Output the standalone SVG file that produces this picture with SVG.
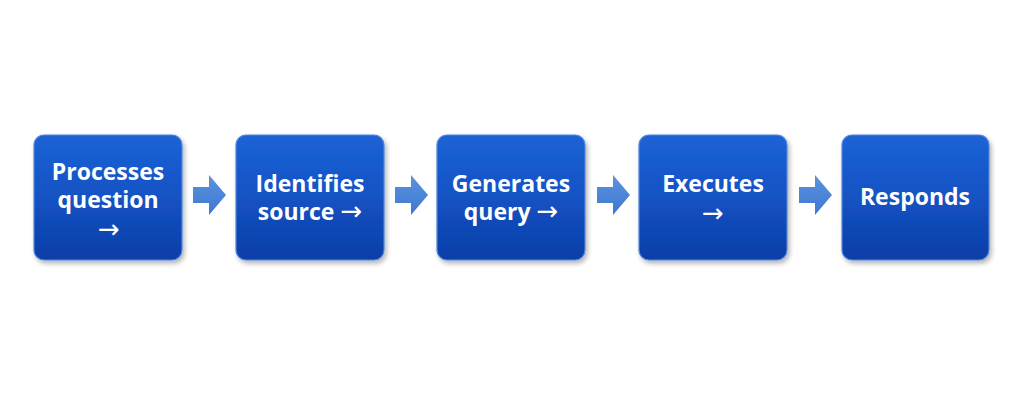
<svg xmlns="http://www.w3.org/2000/svg" width="1024" height="409" viewBox="0 0 1024 409">
<defs>
<linearGradient id="boxg" x1="0" y1="0" x2="0" y2="1">
<stop offset="0" stop-color="#1b63d6"/>
<stop offset="0.5" stop-color="#1452c4"/>
<stop offset="1" stop-color="#0c3ea6"/>
</linearGradient>
<linearGradient id="arrg" x1="0" y1="0" x2="0" y2="1">
<stop offset="0" stop-color="#5b93e0"/>
<stop offset="1" stop-color="#3d78d0"/>
</linearGradient>
<filter id="sh" x="-10%" y="-10%" width="125%" height="125%">
<feGaussianBlur in="SourceAlpha" stdDeviation="2.5"/>
<feOffset dx="2" dy="3" result="b"/>
<feComponentTransfer><feFuncA type="linear" slope="0.3"/></feComponentTransfer>
<feMerge><feMergeNode/><feMergeNode in="SourceGraphic"/></feMerge>
</filter>
<path id="arr" d="M0,12 H16 V0 L33,20 L16,40 V28 H0 Z"/>
</defs>
<style>
.box{fill:url(#boxg);stroke:#4f86e0;stroke-width:1.2;filter:url(#sh)}
.t{font-family:"Open Sans","Noto Sans","Liberation Sans",sans-serif;font-weight:bold;font-size:23px;fill:#ffffff;text-anchor:middle}
.r{font-family:"DejaVu Sans",sans-serif;font-weight:normal;font-size:26px}
.a{fill:url(#arrg)}
</style>
<rect width="1024" height="409" fill="#ffffff"/>
<g id="connectors">
<use href="#arr" class="a" x="193" y="175"/>
<use href="#arr" class="a" x="395" y="175"/>
<use href="#arr" class="a" x="597" y="175"/>
<use href="#arr" class="a" x="799" y="175"/>
</g>
<g id="n1">
<rect class="box" x="34" y="135" width="148" height="125" rx="10"/>
<text class="t" x="108" y="180">Processes</text>
<text class="t" x="108" y="208">question</text>
<text class="t" x="109" y="238"><tspan class="r">→</tspan></text>
</g>
<g id="n2">
<rect class="box" x="236" y="135" width="148" height="125" rx="10"/>
<text class="t" x="310" y="192">Identifies</text>
<text class="t" x="310" y="220">source <tspan class="r">→</tspan></text>
</g>
<g id="n3">
<rect class="box" x="437" y="135" width="148" height="125" rx="10"/>
<text class="t" x="511" y="192">Generates</text>
<text class="t" x="511" y="220">query <tspan class="r">→</tspan></text>
</g>
<g id="n4">
<rect class="box" x="639" y="135" width="148" height="125" rx="10"/>
<text class="t" x="713" y="192">Executes</text>
<text class="t" x="713" y="222"><tspan class="r">→</tspan></text>
</g>
<g id="n5">
<rect class="box" x="842" y="135" width="147" height="125" rx="10"/>
<text class="t" x="915" y="205">Responds</text>
</g>
</svg>
